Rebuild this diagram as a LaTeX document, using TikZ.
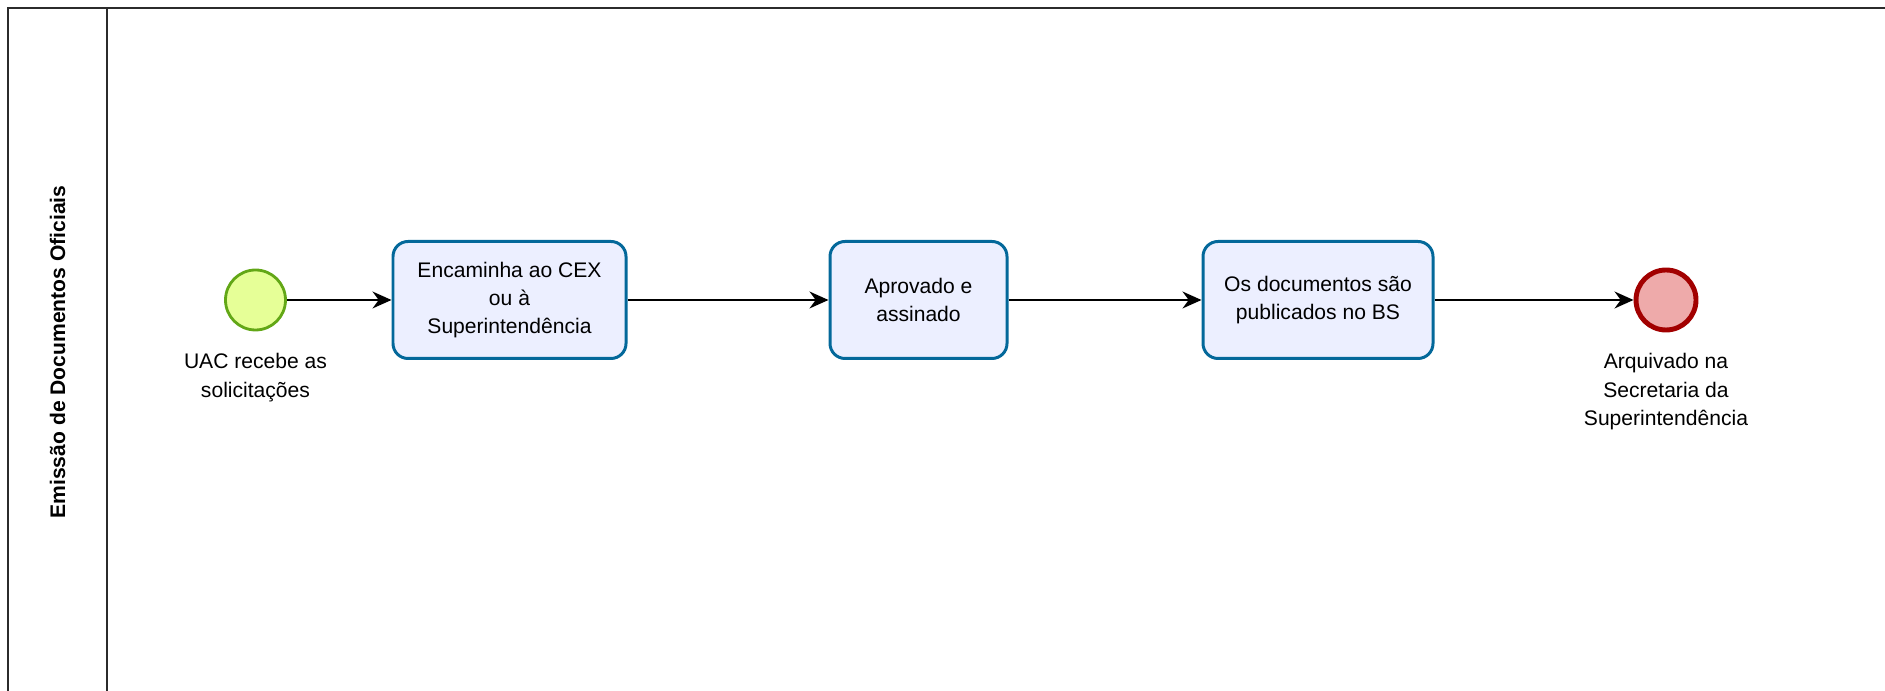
\documentclass[tikz,border=0pt]{standalone}
\usepackage{fontspec}
\setmainfont{Liberation Sans}
\usepackage{xcolor}
\usepackage{tikz}
\usetikzlibrary{calc,arrows.meta}
\definecolor{pool}{HTML}{2B2B2B}
\definecolor{startfill}{HTML}{E6FF97}
\definecolor{startdraw}{HTML}{62A716}
\definecolor{taskfill}{HTML}{ECEFFF}
\definecolor{taskdraw}{HTML}{03689A}
\definecolor{endfill}{HTML}{EEAAAA}
\definecolor{enddraw}{HTML}{A20000}
\tikzset{
  lane/.style={draw=pool, line width=0.7pt},
  evstart/.style={circle, draw=startdraw, fill=startfill, line width=0.8pt, minimum size=0.6cm, inner sep=0pt},
  evend/.style={circle, draw=enddraw, fill=endfill, line width=1.4pt, minimum size=0.6cm, inner sep=0pt},
  task/.style={draw=taskdraw, fill=taskfill, line width=0.85pt, rounded corners=0.15cm,
    minimum height=1.17cm, align=center, inner sep=0pt, font=\fontsize{6}{7.9}\selectfont},
  flow/.style={draw=black, line width=0.55pt, -{Stealth[length=5.4pt, width=4.8pt]}},
  lab/.style={text=black, align=center, font=\fontsize{6}{8.1}\selectfont},
  lanelab/.style={text=black, rotate=90, font=\fontsize{6}{8}\selectfont\bfseries}
}

\begin{document}
\begin{tikzpicture}
  \useasboundingbox (0,0) rectangle (18.85,-6.91);
  \coordinate (S) at (2.555,-3.0);
  \coordinate (E) at (16.66,-3.0);

  \draw[lane] (0.08,-6.91) -- (0.08,-0.08) -- (18.85,-0.08);
  \draw[lane] (1.07,-0.08) -- (1.07,-6.91);
  \node[lanelab] (lane) at (0.575,-3.52) {Emissão de Documentos Oficiais};

  \node[evstart] (start) at (S) {};
  \node[task, minimum width=2.33cm] (t1) at (5.095,-3.0) {Encaminha ao CEX\\ou à\\Superintendência};
  \node[task, minimum width=1.77cm] (t2) at (9.185,-3.0) {Aprovado e\\assinado};
  \node[task, minimum width=2.30cm] (t3) at (13.18,-3.0) {Os documentos são\\publicados no BS};
  \node[evend] (end) at (E) {};

  \node[lab] (startlab) at ($(S)+(0,-0.775)$) {UAC recebe as\\solicitações};
  \node[lab] (endlab) at ($(E)+(0,-0.92)$) {Arquivado na\\Secretaria da\\Superintendência};

  \draw[flow] (start) -- (t1);
  \draw[flow] (t1) -- (t2);
  \draw[flow] (t2) -- (t3);
  \draw[flow] (t3) -- (end);
\end{tikzpicture}
\end{document}
